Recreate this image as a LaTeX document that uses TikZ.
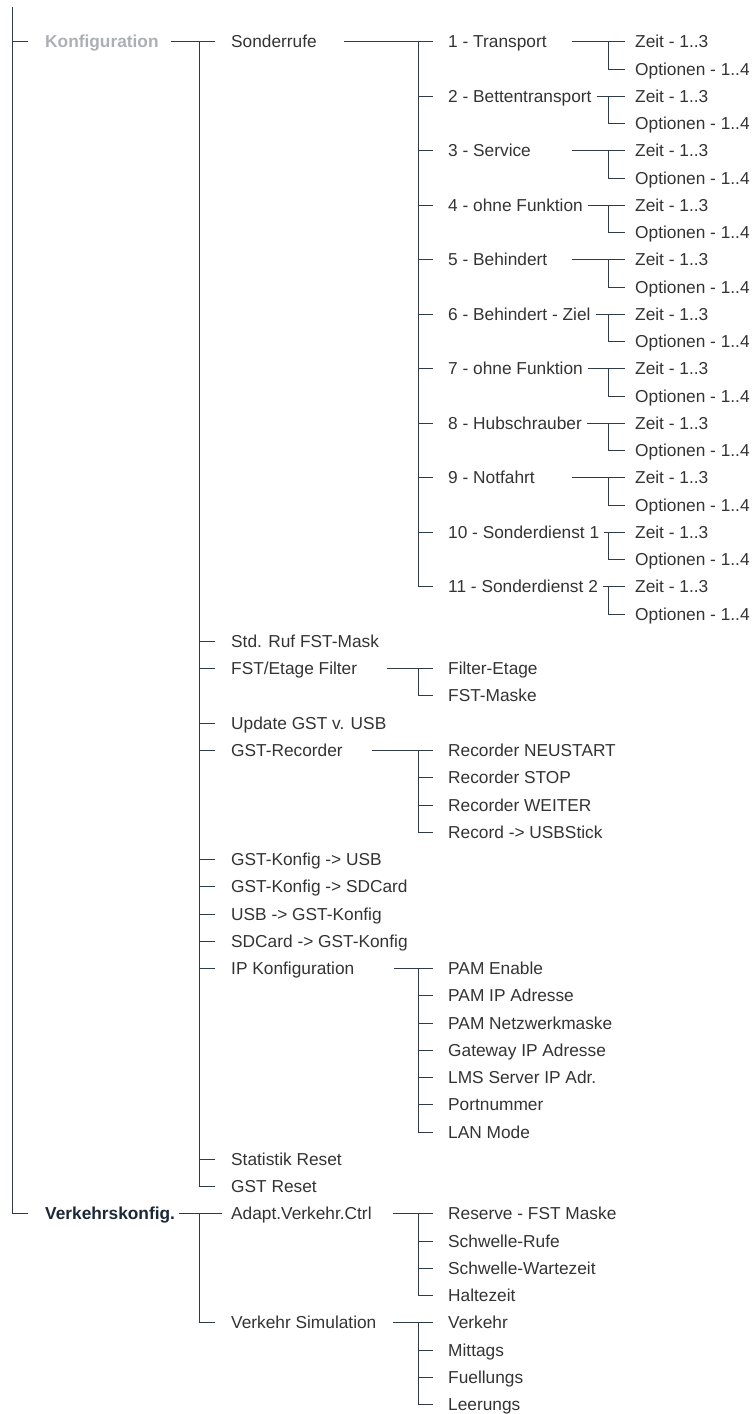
\documentclass[tikz,border=0pt]{standalone}
\usepackage{fontspec}
\setmainfont{Liberation Sans}
\usepackage{xcolor}
\definecolor{menuText}{HTML}{333333}
\definecolor{menuLine}{HTML}{2F3B47}
\definecolor{menuGrey}{HTML}{ABB0B5}
\definecolor{menuDark}{HTML}{1B2838}
\usetikzlibrary{calc}

\begin{document}
\begin{tikzpicture}[x=1pt, y=-27.25pt,
    item/.style={anchor=west, inner sep=0pt, text height=12pt, text depth=0pt,
      text=menuText, font=\fontsize{17.3}{20}\selectfont},
    head/.style={item, font=\fontsize{17.3}{20}\selectfont\bfseries},
    link/.style={menuLine, line width=1pt}]
  \useasboundingbox (0,-1.541) rectangle (754,50.349);

  % root
  \coordinate (top) at (12,-1.28);
  \node[head, text=menuGrey] (K) at (45,0) {Konfiguration};
  \node[head, text=menuDark] (V) at (45,43) {Verkehrskonfig.};
  \draw[link] (top) |- ([xshift=-17]V.west);
  \draw[link] (top |- K.west) -- ([xshift=-17]K.west);

  % Konfiguration
  \node[item] (S) at (231,0) {Sonderrufe};
  \node[item] (SM) at (231,22) {Std. Ruf FST-Mask};
  \node[item] (FE) at (231,23) {FST/Etage Filter};
  \node[item] (UG) at (231,25) {Update GST v. USB};
  \node[item] (RC) at (231,26) {GST-Recorder};
  \node[item] (KU) at (231,30) {GST-Konfig -> USB};
  \node[item] (KS) at (231,31) {GST-Konfig -> SDCard};
  \node[item] (UK) at (231,32) {USB -> GST-Konfig};
  \node[item] (SK) at (231,33) {SDCard -> GST-Konfig};
  \node[item] (IP) at (231,34) {IP Konfiguration};
  \node[item] (SR) at (231,41) {Statistik Reset};
  \node[item] (GR) at (231,42) {GST Reset};
  \draw[link] ([xshift=12]K.east) -- ([xshift=-16]S.west);
  \draw[link] ([xshift=-32]S.west) |- ([xshift=-16]GR.west);
  \foreach \n in {SM,FE,UG,RC,KU,KS,UK,SK,IP,SR}
    \draw[link] ([xshift=-32]\n.west) -- ([xshift=-16]\n.west);

  % Verkehrskonfig.
  \node[item] (AV) at (231,43) {Adapt.Verkehr.Ctrl};
  \node[item] (VS) at (231,47) {Verkehr Simulation};
  \draw[link] ([xshift=4]V.east) -- ([xshift=-9]AV.west);
  \draw[link] ([xshift=-32]AV.west) |- ([xshift=-16]VS.west);

  % Sonderrufe
  \foreach \t [count=\i] in {Transport, Bettentransport, Service, ohne Funktion,
      Behindert, Behindert - Ziel, ohne Funktion, Hubschrauber, Notfahrt,
      Sonderdienst 1, Sonderdienst 2} {
    \node[item] (s\i) at (448,{2*\i-2}) {\i\ - \t};
    \node[item] (z\i) at (635,{2*\i-2}) {Zeit - 1..3};
    \node[item] (o\i) at (635,{2*\i-1}) {Optionen - 1..4};
    \draw[link] let \p1=(s\i.east) in ({max(\x1+5,572)},\y1) -- ([xshift=-10]z\i.west);
    \draw[link] ([xshift=-27]z\i.west) |- ([xshift=-10]o\i.west);
  }
  \draw[link] ([xshift=27]S.east) -- ([xshift=-15]s1.west);
  \draw[link] ([xshift=-30]s1.west) |- ([xshift=-15]s11.west);
  \foreach \i in {2,...,10}
    \draw[link] ([xshift=-30]s\i.west) -- ([xshift=-15]s\i.west);

  % FST/Etage Filter
  \foreach \t [count=\i from 0] in {Filter-Etage, FST-Maske}
    \node[item] (fe\i) at (448,{23+\i}) {\t};
  \draw[link] ([xshift=30]FE.east) -- ([xshift=-15]fe0.west);
  \draw[link] ([xshift=-30]fe0.west) |- ([xshift=-15]fe1.west);

  % GST-Recorder
  \foreach \t [count=\i from 0] in {Recorder NEUSTART, Recorder STOP,
      Recorder WEITER, Record -> USBStick}
    \node[item] (rc\i) at (448,{26+\i}) {\t};
  \draw[link] ([xshift=29]RC.east) -- ([xshift=-15]rc0.west);
  \draw[link] ([xshift=-30]rc0.west) |- ([xshift=-15]rc3.west);
  \foreach \i in {1,2}
    \draw[link] ([xshift=-30]rc\i.west) -- ([xshift=-15]rc\i.west);

  % IP Konfiguration
  \foreach \t [count=\i from 0] in {PAM Enable, PAM IP Adresse, PAM Netzwerkmaske,
      Gateway IP Adresse, LMS Server IP Adr., Portnummer, LAN Mode}
    \node[item] (ip\i) at (448,{34+\i}) {\t};
  \draw[link] ([xshift=39]IP.east) -- ([xshift=-15]ip0.west);
  \draw[link] ([xshift=-30]ip0.west) |- ([xshift=-15]ip6.west);
  \foreach \i in {1,...,5}
    \draw[link] ([xshift=-30]ip\i.west) -- ([xshift=-15]ip\i.west);

  % Adapt.Verkehr.Ctrl
  \foreach \t [count=\i from 0] in {Reserve - FST Maske, Schwelle-Rufe,
      Schwelle-Wartezeit, Haltezeit}
    \node[item] (av\i) at (448,{43+\i}) {\t};
  \draw[link] ([xshift=21]AV.east) -- ([xshift=-15]av0.west);
  \draw[link] ([xshift=-30]av0.west) |- ([xshift=-15]av3.west);
  \foreach \i in {1,2}
    \draw[link] ([xshift=-30]av\i.west) -- ([xshift=-15]av\i.west);

  % Verkehr Simulation
  \foreach \t [count=\i from 0] in {Verkehr, Mittags, Fuellungs, Leerungs}
    \node[item] (vs\i) at (448,{47+\i}) {\t};
  \draw[link] ([xshift=16]VS.east) -- ([xshift=-15]vs0.west);
  \draw[link] ([xshift=-30]vs0.west) |- ([xshift=-15]vs3.west);
  \foreach \i in {1,2}
    \draw[link] ([xshift=-30]vs\i.west) -- ([xshift=-15]vs\i.west);
\end{tikzpicture}
\end{document}
